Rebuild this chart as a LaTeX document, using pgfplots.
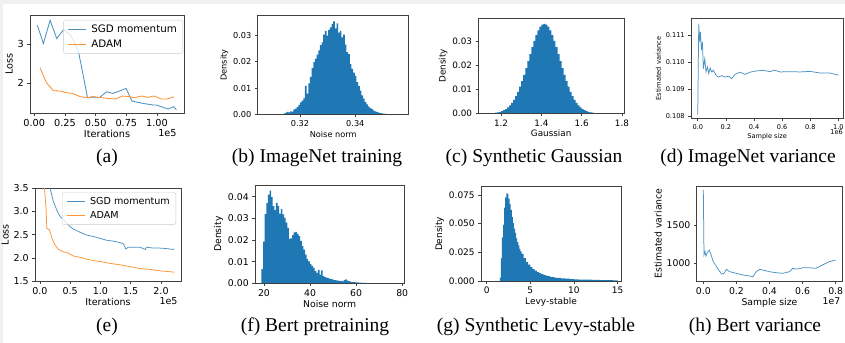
\documentclass[border=0pt]{standalone}
\usepackage{pgfplots}
\pgfplotsset{compat=1.18}
\usepackage{fontspec}
\setmainfont{DejaVu Sans}
\newfontfamily\capfont{Liberation Serif}
\definecolor{mplblue}{HTML}{1F77B4}
\definecolor{mplorange}{HTML}{FF7F0E}
\colorlet{lineblue}{mplblue!80}
\colorlet{lineorange}{mplorange!85}
\newcommand{\fs}[1]{\fontsize{#1bp}{#1bp}\selectfont}
\pgfplotsset{
  mpl/.style={scale only axis, anchor=south west,
    axis line style={black!75, line width=0.6bp},
    tick style={black!75, line width=0.6bp},
    tick align=outside, major tick length=2.8bp, tick pos=left,
    scaled x ticks=false, scaled y ticks=false,
    /pgf/number format/assume math mode=true,
    clip mode=individual},
  mplfont/.style={tick label style={font=\fs{#1}}, label style={font=\fs{#1}}},
  hist/.style={fill=mplblue, draw=none, const plot mark left},
  mpllegend/.style={legend style={draw=black!20, rounded corners=2bp, fill=white, fill opacity=0.8, text opacity=1,
      font=\fs{#1}, inner xsep=4bp, inner ysep=2.5bp, row sep=2bp, column sep=3bp, cells={anchor=west}},
    legend image code/.code={\draw[##1, line width=0.9bp] (0bp,0bp) -- (18bp,0bp);}},
}
\begin{document}
\begin{tikzpicture}
\useasboundingbox (0,0) rectangle (845bp,343bp);
\fill[white] (0,0) rectangle (845bp,343bp);
\fill[black!6] (0,339bp) rectangle (845bp,343bp);
\fill[black!6] (0,0) rectangle (3bp,343bp);

% (a)
\begin{axis}[mpl, mplfont=9.7, mpllegend=10.3, at={(30bp,230bp)}, width=154bp, height=98bp,
  xmin=-0.035, xmax=1.22, ymin=1.23, ymax=3.75,
  xtick={0,0.25,0.5,0.75,1}, xticklabels={0.00,0.25,0.50,0.75,1.00},
  ytick={2,3}, yticklabels={2,3},
  xlabel={Iterations}, ylabel={Loss},
  xlabel style={yshift=3bp}, ylabel style={yshift=-2bp},
  legend style={at={(0.994,0.949)}, anchor=north east}]
\addplot[lineblue, line width=0.85bp] coordinates {
(0.025,3.487) (0.074,3.015) (0.129,3.615) (0.183,3.144) (0.238,3.37) (0.295,3.24)
(0.358,2.846) (0.434,1.623) (0.530,1.623) (0.590,1.777) (0.639,1.733) (0.694,1.795)
(0.748,1.862) (0.795,1.538) (0.885,1.477) (0.967,1.436) (0.994,1.436) (1.090,1.333)
(1.137,1.392) (1.158,1.308)};
\addplot[lineorange, line width=0.85bp] coordinates {
(0.047,2.392) (0.098,2.015) (0.156,1.803) (0.211,1.795) (0.265,1.751) (0.311,1.733)
(0.375,1.649) (0.434,1.623) (0.475,1.656) (0.530,1.631) (0.598,1.605) (0.658,1.590)
(0.721,1.667) (0.776,1.649) (0.811,1.623) (0.877,1.667) (0.926,1.631) (0.975,1.667)
(1.035,1.590) (1.084,1.590) (1.137,1.649)};
\legend{SGD momentum, ADAM}
\node[anchor=east, font=\fs{9.7}] at (rel axis cs:0.975,0) [yshift=-20bp] {1e5};
\end{axis}

% (b)
\begin{axis}[mpl, mplfont=8.2, axis on top, at={(257.7bp,228.5bp)}, width=151bp, height=99bp,
  xmin=0.3047, xmax=0.3593, ymin=0, ymax=0.0374,
  xtick={0.32,0.34}, xticklabels={0.32,0.34},
  ytick={0,0.01,0.02,0.03}, yticklabels={0.00,0.01,0.02,0.03},
  xlabel={Noise norm}, ylabel={Density},
  xlabel style={yshift=3bp}, ylabel style={yshift=-2bp}]
\addplot[hist] coordinates {
(0.3140,0.0003) (0.3146,0.0006) (0.3152,0.0010) (0.3158,0.0008) (0.3164,0.0012) (0.3170,0.0011)
(0.3176,0.0019) (0.3182,0.0022) (0.3188,0.0028) (0.3194,0.0036) (0.3200,0.0046) (0.3206,0.0052)
(0.3212,0.0061) (0.3218,0.0108) (0.3224,0.0079) (0.3230,0.0118) (0.3236,0.0142) (0.3242,0.0175)
(0.3248,0.0198) (0.3254,0.0211) (0.3260,0.0226) (0.3266,0.0242) (0.3272,0.0262) (0.3278,0.0272)
(0.3284,0.0302) (0.3290,0.0316) (0.3296,0.0298) (0.3302,0.0320) (0.3308,0.0329) (0.3314,0.0341)
(0.3320,0.0352) (0.3326,0.0325) (0.3332,0.0344) (0.3338,0.0309) (0.3344,0.0316) (0.3350,0.0291)
(0.3356,0.0302) (0.3362,0.0264) (0.3368,0.0236) (0.3374,0.0228) (0.3380,0.0190) (0.3386,0.0172)
(0.3392,0.0158) (0.3398,0.0146) (0.3404,0.0122) (0.3410,0.0108) (0.3416,0.0090) (0.3422,0.0072)
(0.3428,0.0060) (0.3434,0.0047) (0.3440,0.0038) (0.3446,0.0030) (0.3452,0.0024) (0.3458,0.0020)
(0.3464,0.0015) (0.3470,0.0012) (0.3476,0.0009) (0.3482,0.0007) (0.3488,0.0005) (0.3494,0.0004)
(0.3500,0.0003) (0.3506,0.0002) (0.3512,0.0001) (0.3518,0)} \closedcycle;
\end{axis}

% (c)
\begin{axis}[mpl, mplfont=8.8, axis on top, at={(478.3bp,229.7bp)}, width=145.7bp, height=95bp,
  xmin=1.087, xmax=1.81, ymin=0, ymax=0.0398,
  xtick={1.2,1.4,1.6,1.8}, xticklabels={1.2,1.4,1.6,1.8},
  ytick={0,0.01,0.02,0.03}, yticklabels={0.00,0.01,0.02,0.03},
  xlabel={Gaussian}, ylabel={Density},
  xlabel style={yshift=3bp}, ylabel style={yshift=-2bp}]
\addplot[hist] coordinates {
(1.17,0.00029) (1.18,0.00043) (1.19,0.00063) (1.20,0.00091) (1.21,0.00129) (1.22,0.00179)
(1.23,0.00244) (1.24,0.00328) (1.25,0.00433) (1.26,0.00562) (1.27,0.00718) (1.28,0.00902)
(1.29,0.01113) (1.30,0.01352) (1.31,0.01614) (1.32,0.01894) (1.33,0.02186) (1.34,0.02481)
(1.35,0.02768) (1.36,0.03037) (1.37,0.03277) (1.38,0.03476) (1.39,0.03626) (1.40,0.03718)
(1.41,0.03750) (1.42,0.03718) (1.43,0.03626) (1.44,0.03476) (1.45,0.03277) (1.46,0.03037)
(1.47,0.02768) (1.48,0.02481) (1.49,0.02186) (1.50,0.01894) (1.51,0.01614) (1.52,0.01352)
(1.53,0.01113) (1.54,0.00902) (1.55,0.00718) (1.56,0.00562) (1.57,0.00433) (1.58,0.00328)
(1.59,0.00244) (1.60,0.00179) (1.61,0.00129) (1.62,0.00091) (1.63,0.00063) (1.64,0.00043)
(1.65,0.00029) (1.66,0)} \closedcycle;
\end{axis}

% (d)
\begin{axis}[mpl, mplfont=6.6, at={(691bp,224.7bp)}, width=152.3bp, height=100bp,
  xmin=-0.048, xmax=1.035, ymin=0.10791, ymax=0.11162,
  xtick={0,0.2,0.4,0.6,0.8,1}, xticklabels={0.0,0.2,0.4,0.6,0.8,1.0},
  ytick={0.108,0.109,0.110,0.111}, yticklabels={0.108,0.109,0.110,0.111},
  xlabel={Sample size}, ylabel={Estimated variance},
  xlabel style={yshift=3bp}, ylabel style={yshift=-2bp}]
\addplot[lineblue, line width=0.75bp] coordinates {
(0,0.10805) (0.007,0.11142) (0.014,0.11074) (0.019,0.11111) (0.026,0.11043) (0.033,0.11074)
(0.040,0.10975) (0.050,0.11012) (0.059,0.10963) (0.069,0.10981) (0.078,0.10957) (0.088,0.10978)
(0.10,0.10963) (0.111,0.10969) (0.13,0.10951) (0.147,0.10944) (0.171,0.10949) (0.194,0.10944)
(0.218,0.10947) (0.242,0.10938) (0.265,0.10954) (0.301,0.10962) (0.336,0.10954) (0.372,0.10962)
(0.419,0.10967) (0.467,0.10969) (0.514,0.10964) (0.543,0.10970) (0.585,0.10963) (0.656,0.10964)
(0.727,0.10963) (0.799,0.10965) (0.87,0.10959) (0.94,0.10959) (1.0,0.10951)};
\node[anchor=east, font=\fs{6.6}] at (rel axis cs:1.02,0) [yshift=-14bp] {1e6};
\end{axis}

% (e)
\begin{axis}[mpl, mplfont=9.5, mpllegend=9.6, at={(35bp,62bp)}, width=146bp, height=92.7bp,
  xmin=-0.08, xmax=2.33, ymin=1.5, ymax=3.5,
  xtick={0,0.5,1,1.5,2}, xticklabels={0.0,0.5,1.0,1.5,2.0},
  ytick={1.5,2,2.5,3,3.5}, yticklabels={1.5,2.0,2.5,3.0,3.5},
  xlabel={Iterations}, ylabel={Loss},
  xlabel style={yshift=3bp}, ylabel style={yshift=-2bp},
  legend style={at={(0.966,0.957)}, anchor=north east}]
\addplot[lineblue, line width=0.75bp] coordinates {
(0.15,3.62) (0.17,3.50) (0.225,3.21) (0.28,3.03) (0.335,2.89) (0.39,2.82) (0.445,2.74) (0.5,2.67)
(0.555,2.62) (0.665,2.55) (0.775,2.49) (0.885,2.46) (0.995,2.42) (1.10,2.38) (1.21,2.36)
(1.32,2.33) (1.38,2.30) (1.42,2.19) (1.46,2.23) (1.54,2.23) (1.65,2.23) (1.74,2.18) (1.76,2.23)
(1.87,2.21) (1.98,2.21) (2.09,2.20) (2.20,2.18) (2.22,2.19)};
\addplot[lineorange, line width=0.75bp] coordinates {
(0.06,3.70) (0.077,3.50) (0.104,3.03) (0.115,2.64) (0.16,2.60) (0.20,2.42) (0.25,2.28) (0.31,2.18)
(0.39,2.13) (0.47,2.10) (0.555,2.04) (0.665,2.01) (0.775,1.97) (0.885,1.94) (0.995,1.92)
(1.16,1.88) (1.32,1.85) (1.49,1.81) (1.65,1.77) (1.81,1.75) (1.98,1.72) (2.15,1.70) (2.22,1.69)};
\legend{SGD momentum, ADAM}
\node[anchor=east, font=\fs{9.5}] at (rel axis cs:1,0) [yshift=-20bp] {1e5};
\end{axis}

% (f)
\begin{axis}[mpl, mplfont=9.3, axis on top, at={(255bp,59.7bp)}, width=149.3bp, height=98.3bp,
  xmin=16.1, xmax=80.9, ymin=0, ymax=0.0454,
  xtick={20,40,60,80}, xticklabels={20,40,60,80},
  ytick={0,0.01,0.02,0.03,0.04}, yticklabels={0.00,0.01,0.02,0.03,0.04},
  xlabel={Noise norm}, ylabel={Density},
  xlabel style={yshift=3bp}, ylabel style={yshift=-2bp}]
\addplot[hist] coordinates {
(18.9,0.0066) (19.6,0.0192) (20.3,0.0320) (21.0,0.0370) (21.7,0.0410) (22.4,0.0428) (23.1,0.0398)
(23.8,0.0357) (24.5,0.0338) (25.2,0.0372) (25.9,0.0358) (26.6,0.0322) (27.3,0.0342) (28.0,0.0318)
(28.7,0.0302) (29.4,0.0280) (30.1,0.0256) (30.8,0.0205) (31.5,0.0208) (32.2,0.0222) (32.9,0.0235)
(33.6,0.0238) (34.3,0.0228) (35.0,0.0218) (35.7,0.0196) (36.4,0.0172) (37.1,0.0156) (37.8,0.0132)
(38.5,0.0112) (39.2,0.0101) (39.9,0.0088) (40.6,0.0080) (41.3,0.0071) (42.0,0.0056) (42.7,0.0048)
(43.4,0.0062) (44.1,0.0040) (44.8,0.0060) (45.5,0.0033) (46.2,0.0029) (46.9,0.0026) (47.6,0.0024)
(48.3,0.0021) (49.0,0.0019) (49.7,0.0017) (50.4,0.0015) (51.1,0.0014) (51.8,0.0012) (52.5,0.0011)
(53.2,0.0011) (53.9,0.0009) (54.6,0.0015) (55.3,0.0018) (56.0,0.0012) (56.7,0.0010) (57.4,0.0007)
(58.1,0.0006) (58.8,0.0005) (59.5,0.0004) (60.2,0.0004) (60.9,0.0003) (61.6,0.0003) (62.3,0.0002)
(63.0,0.0002) (63.7,0.0002) (64.4,0.0001) (65.1,0.0001) (65.8,0)} \closedcycle;
\end{axis}

% (g)
\begin{axis}[mpl, mplfont=9, axis on top, at={(481bp,62bp)}, width=140bp, height=94.3bp,
  xmin=-0.65, xmax=15.4, ymin=0, ymax=0.0823,
  xtick={0,5,10,15}, xticklabels={0,5,10,15},
  ytick={0,0.025,0.05,0.075}, yticklabels={0.000,0.025,0.050,0.075},
  xlabel={Levy-stable}, ylabel={Density},
  xlabel style={yshift=3bp}, ylabel style={yshift=-2bp}]
\addplot[hist] coordinates {
(1.50,0.0030) (1.625,0.0198) (1.75,0.0380) (1.875,0.0490) (2.00,0.0640) (2.125,0.0730) (2.25,0.0765)
(2.375,0.0760) (2.50,0.0718) (2.625,0.0672) (2.75,0.0620) (2.875,0.0560) (3.00,0.0505) (3.125,0.0458)
(3.25,0.0418) (3.375,0.0372) (3.50,0.0340) (3.625,0.0310) (3.75,0.0280) (3.875,0.0258) (4.00,0.0236)
(4.25,0.0200) (4.50,0.0168) (4.75,0.0142) (5.00,0.0122) (5.25,0.0104) (5.50,0.0090) (5.75,0.0078)
(6.00,0.0068) (6.25,0.0060) (6.50,0.0053) (6.75,0.0047) (7.00,0.0042) (7.25,0.0037) (7.50,0.0033)
(7.75,0.0030) (8.00,0.0027) (8.5,0.0023) (9.0,0.0020) (9.5,0.0017) (10.0,0.0015) (10.5,0.0013)
(11.0,0.0012) (11.5,0.0011) (12.0,0.0010) (12.5,0.0009) (13.0,0.0008) (13.5,0.0007) (14.0,0.0007)
(14.5,0.0006) (15.0,0)} \closedcycle;
\end{axis}

% (h)
\begin{axis}[mpl, mplfont=9.3, at={(696.7bp,62bp)}, width=145.6bp, height=95bp,
  xmin=-0.04, xmax=0.84, ymin=770, ymax=2009,
  xtick={0,0.2,0.4,0.6,0.8}, xticklabels={0.0,0.2,0.4,0.6,0.8},
  ytick={1000,1500}, yticklabels={1000,1500},
  xlabel={Sample size}, ylabel={Estimated variance},
  xlabel style={yshift=3bp}, ylabel style={yshift=-2bp}]
\addplot[lineblue, line width=0.75bp] coordinates {
(0,1957) (0.004,1109) (0.01,1152) (0.016,1096) (0.024,1139) (0.036,1174) (0.044,1130) (0.06,1022)
(0.08,957) (0.1,891) (0.11,861) (0.125,870) (0.14,922) (0.16,891) (0.2,870) (0.24,848) (0.28,835)
(0.30,826) (0.32,891) (0.34,922) (0.36,913) (0.40,891) (0.44,878) (0.48,870) (0.52,891) (0.54,935)
(0.56,926) (0.58,930) (0.60,943) (0.64,943) (0.68,935) (0.72,978) (0.76,1022) (0.80,1043)};
\node[anchor=east, font=\fs{9.3}] at (rel axis cs:1.01,0) [yshift=-20bp] {1e7};
\end{axis}

% captions
\begin{scope}[every node/.style={font=\capfont\fs{19.5}, inner sep=0pt}]
\node at (107bp,185bp) {(a)};
\node at (317bp,185bp) {(b) ImageNet training};
\node at (534bp,185bp) {(c) Synthetic Gaussian};
\node at (748bp,185bp) {(d) ImageNet variance};
\node at (107bp,16bp) {(e)};
\node at (315bp,16bp) {(f) Bert pretraining};
\node at (536bp,16bp) {(g) Synthetic Levy-stable};
\node at (755bp,16bp) {(h) Bert variance};
\end{scope}
\end{tikzpicture}
\end{document}
